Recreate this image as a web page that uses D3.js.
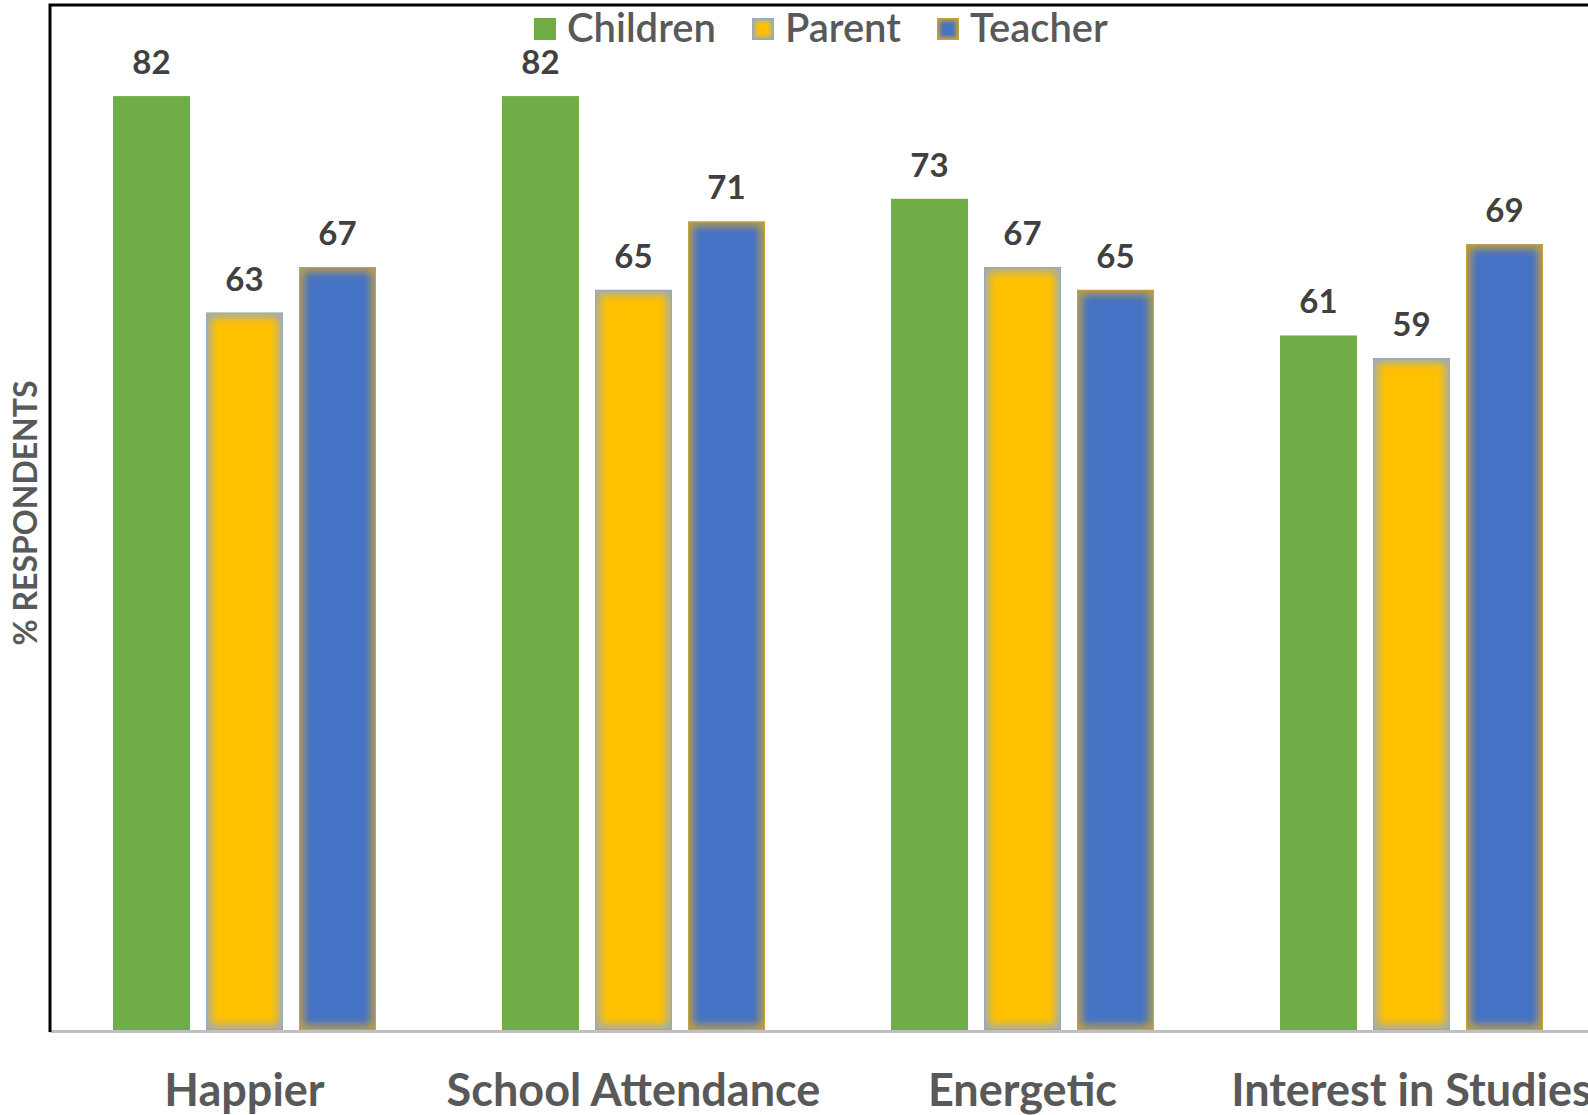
<!DOCTYPE html>
<html>
<head>
<meta charset="utf-8">
<script src="https://cdn.jsdelivr.net/npm/d3@7"></script>
<style>
  html, body { margin: 0; padding: 0; background: #fff; }
  svg { display: block; font-family: Lato, "Open Sans", sans-serif; }
</style>
</head>
<body>
<div id="chart"></div>
<script>
const width = 1588;
const height = 1115;

const categories = ['Happier', 'School Attendance', 'Energetic', 'Interest in Studies'];
const seriesNames = ['Children', 'Parent', 'Teacher'];
const children = [82, 82, 73, 61];
const parent = [63, 65, 67, 59];
const teacher = [67, 71, 65, 69];
const yTitle = '% RESPONDENTS';

const colors = {
  Children: {fill: '#70ad47', edge: null},
  Parent: {fill: '#ffc000', edge: '#93aac4'},
  Teacher: {fill: '#4472c4', edge: '#c9a33a'}
};

const values = {Children: children, Parent: parent, Teacher: teacher};

const rows = categories.map((c, i) => ({
  category: c,
  bars: seriesNames.map(s => ({series: s, value: values[s][i], category: c}))
}));

const plot = {left: 50, top: 5, bottom: 1030, step: 389};

const x0 = d3.scaleBand()
  .domain(categories)
  .range([plot.left, plot.left + plot.step * categories.length])
  .padding(0);

const x1 = d3.scaleBand()
  .domain(seriesNames)
  .range([63, 326])
  .paddingInner(16 / 93)
  .paddingOuter(0);

const y = d3.scaleLinear()
  .domain([0, 90])
  .range([plot.bottom, plot.top]);

const svg = d3.select('#chart').append('svg')
  .attr('width', width)
  .attr('height', height);

const defs = svg.append('defs');
defs.append('filter')
  .attr('id', 'soft')
  .attr('x', '-20%').attr('y', '-20%')
  .attr('width', '140%').attr('height', '140%')
  .append('feGaussianBlur')
  .attr('stdDeviation', 4);
defs.append('filter')
  .attr('id', 'softSmall')
  .attr('x', '-50%').attr('y', '-50%')
  .attr('width', '200%').attr('height', '200%')
  .append('feGaussianBlur')
  .attr('stdDeviation', 2);

// bar with a soft inner edge, like the office "glow" effect
let clipId = 0;
const softBar = (sel, bx, by, bw, bh, c, small) => {
  const id = 'clip' + (clipId++);
  defs.append('clipPath').attr('id', id)
    .append('rect').attr('x', bx).attr('y', by).attr('width', bw).attr('height', bh);
  const g = sel.append('g').attr('clip-path', `url(#${id})`);
  g.append('rect')
    .attr('x', bx).attr('y', by).attr('width', bw).attr('height', bh)
    .attr('fill', c.fill);
  if (c.edge) {
    g.append('rect')
      .attr('x', bx).attr('y', by).attr('width', bw).attr('height', bh)
      .attr('fill', 'none')
      .attr('stroke', c.edge)
      .attr('stroke-width', small ? 6 : 9)
      .attr('filter', small ? 'url(#softSmall)' : 'url(#soft)');
    g.append('rect')
      .attr('x', bx + 0.5).attr('y', by + 0.5).attr('width', bw - 1).attr('height', bh - 1)
      .attr('fill', 'none')
      .attr('stroke', c.edge)
      .attr('stroke-width', 1);
  }
};

// bars
const groups = svg.selectAll('.group')
  .data(rows)
  .join('g')
  .attr('class', 'group')
  .attr('transform', d => `translate(${x0(d.category)},0)`);

groups.each(function (row) {
  const g = d3.select(this);
  row.bars.forEach(b => {
    softBar(g, x1(b.series), y(b.value), x1.bandwidth(), y(0) - y(b.value), colors[b.series], false);
  });
});

// value labels
groups.selectAll('.label')
  .data(d => d.bars)
  .join('text')
  .attr('class', 'label')
  .attr('x', d => x1(d.series) + x1.bandwidth() / 2)
  .attr('y', d => y(d.value) - 22)
  .attr('text-anchor', 'middle')
  .attr('font-size', 33)
  .attr('font-weight', 700)
  .attr('fill', '#404040')
  .text(d => d.value);

// baseline
svg.append('line')
  .attr('x1', plot.left).attr('x2', width)
  .attr('y1', y(0) + 1.5).attr('y2', y(0) + 1.5)
  .attr('stroke', '#bfbfbf')
  .attr('stroke-width', 3);

// frame (left and top)
svg.append('path')
  .attr('d', `M${plot.left},${y(0) + 2} V${plot.top} H${width}`)
  .attr('fill', 'none')
  .attr('stroke', '#000')
  .attr('stroke-width', 3);

// category axis labels
svg.append('g')
  .selectAll('text')
  .data(categories)
  .join('text')
  .attr('x', d => x0(d) + x0.bandwidth() / 2)
  .attr('y', 1106)
  .attr('text-anchor', 'middle')
  .attr('font-size', 45)
  .attr('font-weight', 700)
  .attr('fill', '#595959')
  .text(d => d);

// y axis title
svg.append('text')
  .attr('transform', `translate(37,${513}) rotate(-90)`)
  .attr('text-anchor', 'middle')
  .attr('font-size', 32)
  .attr('font-weight', 700)
  .attr('fill', '#595959')
  .text(yTitle);

// legend
const legend = svg.append('g').attr('class', 'legend');
let lx = 534;
seriesNames.forEach(s => {
  const item = legend.append('g');
  softBar(item, lx, 18, 22, 22, colors[s], true);
  const t = item.append('text')
    .attr('x', lx + 33)
    .attr('y', 42)
    .attr('font-size', 40)
    .attr('font-weight', 600)
    .attr('fill', '#595959')
    .text(s);
  lx += 33 + t.node().getComputedTextLength() + 36;
});
</script>
</body>
</html>
